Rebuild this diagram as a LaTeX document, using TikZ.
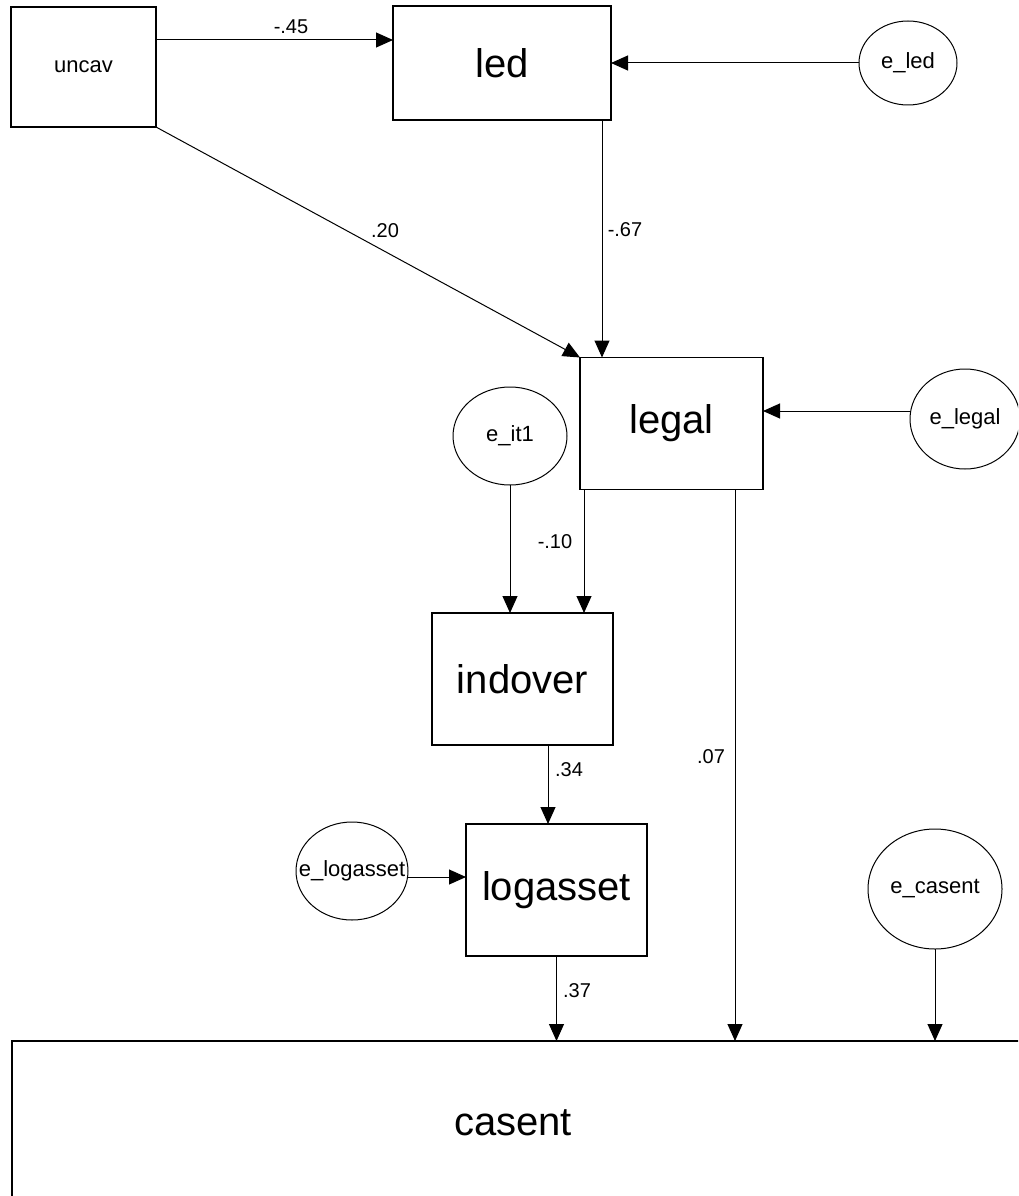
\documentclass[tikz,border=0pt]{standalone}
\usepackage{fontspec}
\setmainfont{Liberation Sans}
\usetikzlibrary{arrows.meta,shapes.geometric,calc}
\begin{document}
\begin{tikzpicture}[x=1pt,y=-1pt,
  every node/.style={inner sep=0pt, outer sep=0pt},
  obs/.style={draw, line width=1.1pt, rectangle},
  err/.style={draw, line width=1pt, ellipse},
  big/.style={font=\fontsize{40}{48}\selectfont},
  small/.style={font=\fontsize{22}{26}\selectfont},
  coef/.style={font=\fontsize{20}{24}\selectfont},
  arr/.style={draw, line width=1pt, -{Triangle[length=17pt,width=15pt]}},
]
\useasboundingbox (0,0) rectangle (1018,1196);
\clip (0,0) rectangle (1018,1196);

% observed variables
\node[obs, minimum width=145pt, minimum height=120pt] (uncav) at (83.5,67) {};
\node[small] (uncavt) at (uncav) {uncav};
\node[obs, minimum width=218pt, minimum height=114pt] (led) at (502,63) {};
\node[big] (ledt) at (led) {led};
\node[obs, minimum width=183pt, minimum height=132pt] (legal) at (671.5,423.5) {};
\node[big] (legalt) at (legal) {legal};
\node[obs, minimum width=181pt, minimum height=132pt] (indover) at (522.5,679) {};
\node[big] (indovert) at (indover) {indover};
\node[obs, minimum width=181pt, minimum height=132pt] (logasset) at (556.5,890) {};
\node[big] (logassett) at (logasset) {logasset};
\node[obs, minimum width=1010pt, minimum height=238pt] (casent) at (517,1160) {};
\node[big] (casentt) at (513,1123) {casent};

% error terms
\node[err, minimum width=98pt, minimum height=84pt] (eled) at (908,63) {};
\node[small] (eledt) at (eled) {e\_led};
\node[err, minimum width=110pt, minimum height=100pt] (eleg) at (965,419) {};
\node[small] (elegt) at (eleg) {e\_legal};
\node[err, minimum width=114pt, minimum height=98pt] (eit) at (510,436) {};
\node[small] (eitt) at (eit) {e\_it1};
\node[err, minimum width=112pt, minimum height=98pt] (elog) at (352,871) {};
\node[small] (elogt) at (elog) {e\_logasset};
\node[err, minimum width=134pt, minimum height=120pt] (ecas) at (935,889) {};
\node[small] (ecast) at (ecas) {e\_casent};

% paths
\coordinate (p1) at ([yshift=27pt]uncav.east);
\draw[arr] (p1) -- (led.west |- p1);
\node[coef] (c1) at (291,27) {-.45};

\draw[arr] (eled.west) -- (led.east);

\draw[arr] (uncav.south east) -- (legal.north west);
\node[coef] (c2) at (385,231) {.20};

\coordinate (p2) at ([xshift=100pt]led.south);
\draw[arr] (p2) -- (p2 |- legal.north);
\node[coef] (c3) at (625,230) {-.67};

\coordinate (p3) at ([yshift=8pt]eleg.west);
\draw[arr] (p3) -- (legal.east |- p3);

\draw[arr] (eit.south) -- (eit.south |- indover.north);

\coordinate (p4) at ([xshift=-87.5pt]legal.south);
\draw[arr] (p4) -- (p4 |- indover.north);
\node[coef] (c4) at (555,542) {-.10};

\coordinate (p5) at ([xshift=63.5pt]legal.south);
\draw[arr] (p5) -- (p5 |- casent.north);
\node[coef] (c5) at (711,757) {.07};

\coordinate (p6) at ([xshift=25.5pt]indover.south);
\draw[arr] (p6) -- (p6 |- logasset.north);
\node[coef] (c6) at (569,770) {.34};

\coordinate (p7) at ([yshift=-6pt]elog.east);
\draw[arr] (p7) -- (logasset.west |- p7);

\draw[arr] (logasset.south) -- (logasset.south |- casent.north);
\node[coef] (c7) at (577,991) {.37};

\draw[arr] (ecas.south) -- (ecas.south |- casent.north);
\end{tikzpicture}
\end{document}
